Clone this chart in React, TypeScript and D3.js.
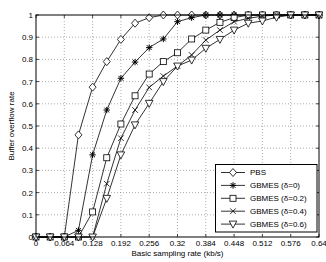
import { useEffect, useRef } from 'react';
import * as d3 from 'd3';

const rates = [0, 0.032, 0.064, 0.096, 0.128, 0.16, 0.192, 0.224, 0.256, 0.288, 0.32, 0.352, 0.384, 0.416, 0.448, 0.48, 0.512, 0.544, 0.576, 0.608, 0.64];
const pbs = [0, 0, 0, 0.46, 0.675, 0.79, 0.89, 0.963, 0.988, 1, 1, 1, 1, 1, 1, 1, 1, 1, 1, 1, 1];
const gbmes0 = [0, 0, 0, 0.03, 0.37, 0.572, 0.715, 0.788, 0.853, 0.892, 0.97, 0.988, 1, 1, 1, 1, 1, 1, 1, 1, 1];
const gbmes02 = [0, 0, 0, 0, 0.113, 0.357, 0.509, 0.636, 0.734, 0.79, 0.83, 0.892, 0.932, 0.967, 0.988, 1, 1, 1, 1, 1, 1];
const gbmes04 = [0, 0, 0, 0, 0, 0.24, 0.445, 0.572, 0.674, 0.725, 0.77, 0.82, 0.887, 0.932, 0.97, 0.985, 0.995, 1, 1, 1, 1];
const gbmes06 = [0, 0, 0, 0, 0, 0.174, 0.37, 0.505, 0.602, 0.7, 0.77, 0.797, 0.85, 0.89, 0.932, 0.963, 0.973, 0.99, 1, 1, 1];

const seriesNames = ['PBS', 'GBMES (δ=0)', 'GBMES (δ=0.2)', 'GBMES (δ=0.4)', 'GBMES (δ=0.6)'];
const seriesMarkers = ['diamond', 'star', 'square', 'x', 'triangle'];

const xTicks = [0, 0.064, 0.128, 0.192, 0.256, 0.32, 0.384, 0.448, 0.512, 0.576, 0.64];
const xTickLabels = ['0', '0.064', '0.128', '0.192', '0.256', '0.32', '0.384', '0.448', '0.512', '0.576', '0.64'];
const yTicks = [0, 0.1, 0.2, 0.3, 0.4, 0.5, 0.6, 0.7, 0.8, 0.9, 1];
const yTickLabels = ['0', '0.1', '0.2', '0.3', '0.4', '0.5', '0.6', '0.7', '0.8', '0.9', '1'];

const FONT = '"Liberation Sans", Arial, Helvetica, sans-serif';

function drawMarker(g: any, type: string, x: number, y: number) {
  const sw = 0.8;
  if (type === 'diamond') {
    g.append('path')
      .attr('d', `M${x},${y - 4}L${x + 3.5},${y}L${x},${y + 4}L${x - 3.5},${y}Z`)
      .attr('fill', '#fff').attr('stroke', '#000').attr('stroke-width', sw);
  } else if (type === 'square') {
    g.append('rect')
      .attr('x', x - 3).attr('y', y - 3).attr('width', 6).attr('height', 6)
      .attr('fill', '#fff').attr('stroke', '#000').attr('stroke-width', sw);
  } else if (type === 'triangle') {
    g.append('path')
      .attr('d', `M${x - 3.8},${y - 3}L${x + 3.8},${y - 3}L${x},${y + 4}Z`)
      .attr('fill', '#fff').attr('stroke', '#000').attr('stroke-width', sw);
  } else if (type === 'x') {
    g.append('path')
      .attr('d', `M${x - 2.8},${y - 2.8}L${x + 2.8},${y + 2.8}M${x - 2.8},${y + 2.8}L${x + 2.8},${y - 2.8}`)
      .attr('fill', 'none').attr('stroke', '#000').attr('stroke-width', sw);
  } else {
    // star: plus + cross
    g.append('path')
      .attr('d', `M${x - 3.2},${y}L${x + 3.2},${y}M${x},${y - 3.2}L${x},${y + 3.2}M${x - 2.4},${y - 2.4}L${x + 2.4},${y + 2.4}M${x - 2.4},${y + 2.4}L${x + 2.4},${y - 2.4}`)
      .attr('fill', 'none').attr('stroke', '#000').attr('stroke-width', 1);
  }
}

export default function App() {
  const ref = useRef<SVGSVGElement | null>(null);

  useEffect(() => {
    if (!ref.current) return;
    const svg = d3.select(ref.current);
    svg.selectAll('*').remove();

    const left = 36, right = 319, top = 15, bottom = 237;

    const x = d3.scaleLinear().domain([0, 0.64]).range([left, right]);
    const y = d3.scaleLinear().domain([0, 1]).range([bottom, top]);

    svg.append('rect').attr('width', 326).attr('height', 262).attr('fill', '#fff');

    // grid
    const grid = svg.append('g');
    xTicks.slice(1, -1).forEach(t => {
      grid.append('line')
        .attr('x1', x(t)).attr('x2', x(t)).attr('y1', top).attr('y2', bottom)
        .attr('stroke', '#777').attr('stroke-width', 0.6).attr('stroke-dasharray', '1,2');
    });
    yTicks.slice(1, -1).forEach(t => {
      grid.append('line')
        .attr('x1', left).attr('x2', right).attr('y1', y(t)).attr('y2', y(t))
        .attr('stroke', '#777').attr('stroke-width', 0.6).attr('stroke-dasharray', '1,2');
    });

    // ticks inside on all sides
    const ticks = svg.append('g').attr('stroke', '#000').attr('stroke-width', 0.7);
    xTicks.forEach(t => {
      ticks.append('line').attr('x1', x(t)).attr('x2', x(t)).attr('y1', bottom).attr('y2', bottom - 3);
      ticks.append('line').attr('x1', x(t)).attr('x2', x(t)).attr('y1', top).attr('y2', top + 3);
    });
    yTicks.forEach(t => {
      ticks.append('line').attr('x1', left).attr('x2', left + 3).attr('y1', y(t)).attr('y2', y(t));
      ticks.append('line').attr('x1', right).attr('x2', right - 3).attr('y1', y(t)).attr('y2', y(t));
    });

    // series
    const allSeries = [pbs, gbmes0, gbmes02, gbmes04, gbmes06];
    const line = d3.line<number>()
      .x((_, i) => x(rates[i]))
      .y(d => y(d));

    allSeries.forEach((vals, si) => {
      const g = svg.append('g');
      g.append('path')
        .datum(vals)
        .attr('fill', 'none')
        .attr('stroke', '#000')
        .attr('stroke-width', 0.8)
        .attr('d', line);
      vals.forEach((v, i) => drawMarker(g, seriesMarkers[si], x(rates[i]), y(v)));
    });

    // axes box
    svg.append('rect')
      .attr('x', left).attr('y', top).attr('width', right - left).attr('height', bottom - top)
      .attr('fill', 'none').attr('stroke', '#000').attr('stroke-width', 1);

    // tick labels
    xTicks.forEach((t, i) => {
      svg.append('text')
        .attr('x', x(t)).attr('y', 246)
        .attr('text-anchor', 'middle')
        .style('font-family', FONT).style('font-size', '8px')
        .attr('fill', '#000')
        .text(xTickLabels[i]);
    });
    yTicks.forEach((t, i) => {
      svg.append('text')
        .attr('x', 33).attr('y', y(t) + 2.9)
        .attr('text-anchor', 'end')
        .style('font-family', FONT).style('font-size', '8px')
        .attr('fill', '#000')
        .text(yTickLabels[i]);
    });

    // axis titles
    svg.append('text')
      .attr('x', (left + right) / 2).attr('y', 256)
      .attr('text-anchor', 'middle')
      .style('font-family', FONT).style('font-size', '8px')
      .text('Basic sampling rate (kb/s)');

    svg.append('text')
      .attr('transform', `translate(14,${(top + bottom) / 2}) rotate(-90)`)
      .attr('text-anchor', 'middle')
      .style('font-family', FONT).style('font-size', '8px')
      .text('Buffer overflow rate');

    // legend
    const legend = svg.append('g');
    legend.append('rect')
      .attr('x', 215.5).attr('y', 164.5).attr('width', 101.5).attr('height', 67.5)
      .attr('fill', '#fff').attr('stroke', '#000').attr('stroke-width', 1);

    seriesNames.forEach((name, i) => {
      const ly = 172.5 + i * 12.9;
      legend.append('line')
        .attr('x1', 221).attr('x2', 245).attr('y1', ly).attr('y2', ly)
        .attr('stroke', '#000').attr('stroke-width', 0.8);
      drawMarker(legend, seriesMarkers[i], 233, ly);
      legend.append('text')
        .attr('x', 250).attr('y', ly + 2.9)
        .style('font-family', FONT).style('font-size', '8px')
        .attr('fill', '#000')
        .text(name);
    });
  }, []);

  return (
    <svg
      ref={ref}
      width={326}
      height={262}
      style={{ position: 'absolute', left: 0, top: 0, display: 'block' }}
    />
  );
}
